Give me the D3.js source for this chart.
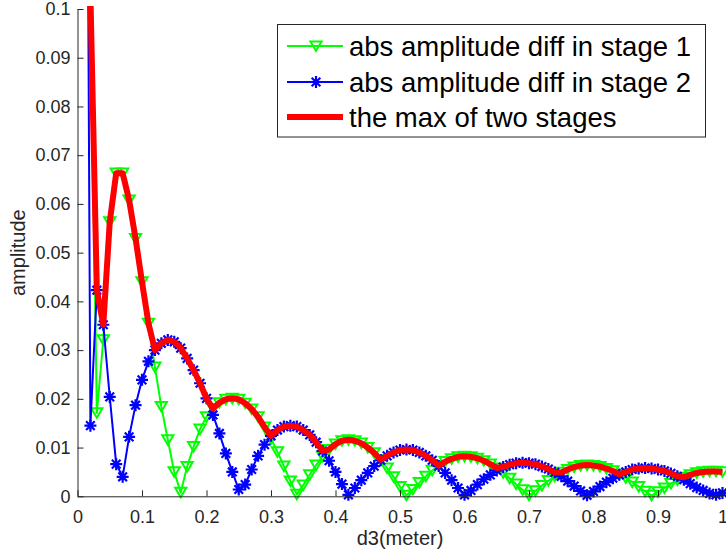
<!DOCTYPE html>
<html>
<head>
<meta charset="utf-8">
<script src="https://cdn.jsdelivr.net/npm/d3@7"></script>
<style>
  html, body { margin: 0; padding: 0; background: #fff; }
  svg { display: block; font-family: "Liberation Sans", Arial, Helvetica, sans-serif; }
</style>
</head>
<body>
<svg id="chart" width="726" height="555"></svg>
<script>
// ---- data ----
const d3x = [0.01,0.02,0.03,0.04,0.05,0.06,0.07,0.08,0.09,0.10,
  0.11,0.12,0.13,0.14,0.15,0.16,0.17,0.18,0.19,0.20,
  0.21,0.22,0.23,0.24,0.25,0.26,0.27,0.28,0.29,0.30,
  0.31,0.32,0.33,0.34,0.35,0.36,0.37,0.38,0.39,0.40,
  0.41,0.42,0.43,0.44,0.45,0.46,0.47,0.48,0.49,0.50,
  0.51,0.52,0.53,0.54,0.55,0.56,0.57,0.58,0.59,0.60,
  0.61,0.62,0.63,0.64,0.65,0.66,0.67,0.68,0.69,0.70,
  0.71,0.72,0.73,0.74,0.75,0.76,0.77,0.78,0.79,0.80,
  0.81,0.82,0.83,0.84,0.85,0.86,0.87,0.88,0.89,0.90,
  0.91,0.92,0.93,0.94,0.95,0.96,0.97,0.98,0.99,1.00];

const stage1 = [0.2,0.103,0.0171,0.0321,0.0563,0.0663,0.0663,0.0608,0.0529,0.0440,
  0.0355,0.0265,0.0184,0.0116,0.0050,0.0008,0.0061,0.0102,0.0138,0.0163,
  0.0180,0.0192,0.0199,0.0201,0.0199,0.0191,0.0179,0.0163,0.0142,0.0118,
  0.0091,0.0062,0.0031,0.0004,0.0023,0.0044,0.0064,0.0082,0.0096,0.0107,
  0.0114,0.0116,0.0114,0.0109,0.0100,0.0089,0.0075,0.0058,0.0040,0.0020,
  0.0002,0.0014,0.0028,0.0041,0.0053,0.0063,0.0071,0.0077,0.0081,0.0082,
  0.0081,0.0078,0.0073,0.0066,0.0058,0.0048,0.0037,0.0025,0.0013,0.0002,
  0.0011,0.0022,0.0032,0.0041,0.0049,0.0055,0.0060,0.0063,0.0064,0.0063,
  0.0061,0.0057,0.0052,0.0045,0.0038,0.0029,0.0020,0.0010,0.0002,0.0009,
  0.0017,0.0026,0.0033,0.0039,0.0044,0.0048,0.0050,0.0051,0.0051,0.0050];

const stage2 = [0.2765,0.0145,0.0423,0.0352,0.0204,0.0066,0.0040,0.0122,0.0187,0.0239,
  0.0277,0.0300,0.0314,0.0321,0.0317,0.0304,0.0283,0.0259,0.0232,0.0201,
  0.0167,0.0129,0.0088,0.0050,0.0014,0.0024,0.0055,0.0083,0.0106,0.0124,
  0.0136,0.0143,0.0145,0.0143,0.0136,0.0126,0.0111,0.0093,0.0073,0.0050,
  0.0025,0.0003,0.0017,0.0033,0.0048,0.0062,0.0074,0.0083,0.0090,0.0095,
  0.0096,0.0095,0.0090,0.0083,0.0074,0.0062,0.0048,0.0033,0.0017,0.0003,
  0.0012,0.0024,0.0035,0.0044,0.0053,0.0060,0.0065,0.0068,0.0069,0.0068,
  0.0066,0.0061,0.0056,0.0049,0.0041,0.0031,0.0021,0.0011,0.0002,0.0010,
  0.0020,0.0029,0.0037,0.0044,0.0050,0.0055,0.0057,0.0058,0.0057,0.0055,
  0.0052,0.0047,0.0041,0.0034,0.0026,0.0018,0.0012,0.0006,0.0003,0.0007];

const maxStages = [0.2765,0.103,0.0423,0.0352,0.0563,0.0663,0.0663,0.0608,0.0529,0.0440,
  0.0355,0.0300,0.0314,0.0321,0.0317,0.0304,0.0283,0.0259,0.0232,0.0201,
  0.0180,0.0192,0.0199,0.0201,0.0199,0.0191,0.0179,0.0163,0.0142,0.0124,
  0.0136,0.0143,0.0145,0.0143,0.0136,0.0126,0.0111,0.0093,0.0096,0.0107,
  0.0114,0.0116,0.0114,0.0109,0.0100,0.0089,0.0075,0.0083,0.0090,0.0095,
  0.0096,0.0095,0.0090,0.0083,0.0074,0.0063,0.0071,0.0077,0.0081,0.0082,
  0.0081,0.0078,0.0073,0.0066,0.0058,0.0060,0.0065,0.0068,0.0069,0.0068,
  0.0066,0.0061,0.0056,0.0049,0.0049,0.0055,0.0060,0.0063,0.0064,0.0063,
  0.0061,0.0057,0.0052,0.0045,0.0050,0.0055,0.0057,0.0058,0.0057,0.0055,
  0.0052,0.0047,0.0041,0.0039,0.0044,0.0048,0.0050,0.0051,0.0051,0.0050];

const xTicks = [0,0.1,0.2,0.3,0.4,0.5,0.6,0.7,0.8,0.9,1];
const xTickLabels = ["0","0.1","0.2","0.3","0.4","0.5","0.6","0.7","0.8","0.9","1"];
const yTicks = [0,0.01,0.02,0.03,0.04,0.05,0.06,0.07,0.08,0.09,0.1];
const yTickLabels = ["0","0.01","0.02","0.03","0.04","0.05","0.06","0.07","0.08","0.09","0.1"];
const seriesNames = ["abs amplitude diff in stage 1","abs amplitude diff in stage 2","the max of two stages"];
const xLabel = "d3(meter)";
const yLabel = "amplitude";

// ---- layout ----
const L = 77.5, R = 722.5, T = 9, B = 496.3;
const axisColor = "#262626";
const svg = d3.select("#chart");

const x = d3.scaleLinear().domain([0, 1]).range([L, R]);
const y = d3.scaleLinear().domain([0, 0.1]).range([B, T]);

svg.append("defs").append("clipPath").attr("id", "clip")
  .append("rect").attr("x", L).attr("y", T - 3).attr("width", 726 - L).attr("height", B - T + 3);

const s1 = d3x.map((v, i) => ({ x: v, y: stage1[i] }));
const s2 = d3x.map((v, i) => ({ x: v, y: stage2[i] }));
const s3 = d3x.map((v, i) => ({ x: v, y: maxStages[i] }));

const line = d3.line().x(d => x(d.x)).y(d => y(d.y));
const plot = svg.append("g");

// stage 1 (green, down-triangles)
plot.append("path").datum(s1).attr("clip-path", "url(#clip)")
  .attr("d", line).attr("fill", "none").attr("stroke", "#00ff00").attr("stroke-width", 2)
  .attr("stroke-linejoin", "round");
const triPath = "M-5.6,-4.6L5.6,-4.6L0,4.9Z";
plot.append("g").selectAll("path").data(s1.filter(d => d.y <= 0.1)).join("path")
  .attr("transform", d => `translate(${x(d.x)},${y(d.y)})`)
  .attr("d", triPath).attr("fill", "none").attr("stroke", "#00ff00").attr("stroke-width", 2)
  .attr("stroke-linejoin", "miter");

// stage 2 (blue, asterisks)
plot.append("path").datum(s2).attr("clip-path", "url(#clip)")
  .attr("d", line).attr("fill", "none").attr("stroke", "#0000ff").attr("stroke-width", 2)
  .attr("stroke-linejoin", "round");
const r = 6, rd = r * 0.72;
const starPath = `M0,${-r}L0,${r}M${-r},0L${r},0M${-rd},${-rd}L${rd},${rd}M${-rd},${rd}L${rd},${-rd}`;
plot.append("g").selectAll("path").data(s2.filter(d => d.y <= 0.1)).join("path")
  .attr("transform", d => `translate(${x(d.x)},${y(d.y)})`)
  .attr("d", starPath).attr("fill", "none").attr("stroke", "#0000ff").attr("stroke-width", 2.2);

// max (red)
plot.append("path").datum(s3).attr("clip-path", "url(#clip)")
  .attr("d", line).attr("fill", "none").attr("stroke", "#ff0000").attr("stroke-width", 6)
  .attr("stroke-linejoin", "round");

// ---- axes ----
const xAxis = d3.axisBottom(x).tickValues(xTicks).tickFormat((d, i) => xTickLabels[i])
  .tickSizeInner(-6).tickSizeOuter(0).tickPadding(14);
const yAxis = d3.axisLeft(y).tickValues(yTicks).tickFormat((d, i) => yTickLabels[i])
  .tickSizeInner(-6).tickSizeOuter(0).tickPadding(7);

const gx = svg.append("g").attr("transform", `translate(0,${B})`).call(xAxis);
const gy = svg.append("g").attr("transform", `translate(${L},0)`).call(yAxis);
[gx, gy].forEach(g => {
  g.select(".domain").attr("stroke", axisColor).attr("stroke-width", 1);
  g.selectAll(".tick line").attr("stroke", axisColor).attr("stroke-width", 1);
  g.selectAll(".tick text").attr("fill", axisColor).attr("font-size", 18)
    .attr("font-family", "Liberation Sans, Arial, sans-serif");
});

svg.append("text").attr("x", (L + R) / 2).attr("y", 545).attr("text-anchor", "middle")
  .attr("font-size", 20).attr("fill", axisColor).text(xLabel);
svg.append("text").attr("transform", `translate(25,${(T + B) / 2}) rotate(-90)`)
  .attr("text-anchor", "middle").attr("font-size", 20).attr("fill", axisColor).text(yLabel);

// ---- legend ----
const lg = svg.append("g");
lg.append("rect").attr("x", 277.5).attr("y", 24.5).attr("width", 428).attr("height", 112.5)
  .attr("fill", "#fff").attr("stroke", axisColor).attr("stroke-width", 1);
const rowsY = [46, 82, 117];
const x0 = 287, x1 = 343, xm = 316, tx = 349;
lg.append("line").attr("x1", x0).attr("x2", x1).attr("y1", rowsY[0]).attr("y2", rowsY[0])
  .attr("stroke", "#00ff00").attr("stroke-width", 2);
lg.append("path").attr("transform", `translate(${xm},${rowsY[0]})`).attr("d", triPath)
  .attr("fill", "none").attr("stroke", "#00ff00").attr("stroke-width", 2);
lg.append("line").attr("x1", x0).attr("x2", x1).attr("y1", rowsY[1]).attr("y2", rowsY[1])
  .attr("stroke", "#0000ff").attr("stroke-width", 2);
lg.append("path").attr("transform", `translate(${xm},${rowsY[1]})`).attr("d", starPath)
  .attr("fill", "none").attr("stroke", "#0000ff").attr("stroke-width", 2.2);
lg.append("line").attr("x1", x0).attr("x2", x1).attr("y1", rowsY[2]).attr("y2", rowsY[2])
  .attr("stroke", "#ff0000").attr("stroke-width", 6);
seriesNames.forEach((n, i) => {
  lg.append("text").attr("x", tx).attr("y", rowsY[i]).attr("dy", "0.36em")
    .attr("font-size", 27.5).attr("fill", "#000").text(n);
});
</script>
</body>
</html>
